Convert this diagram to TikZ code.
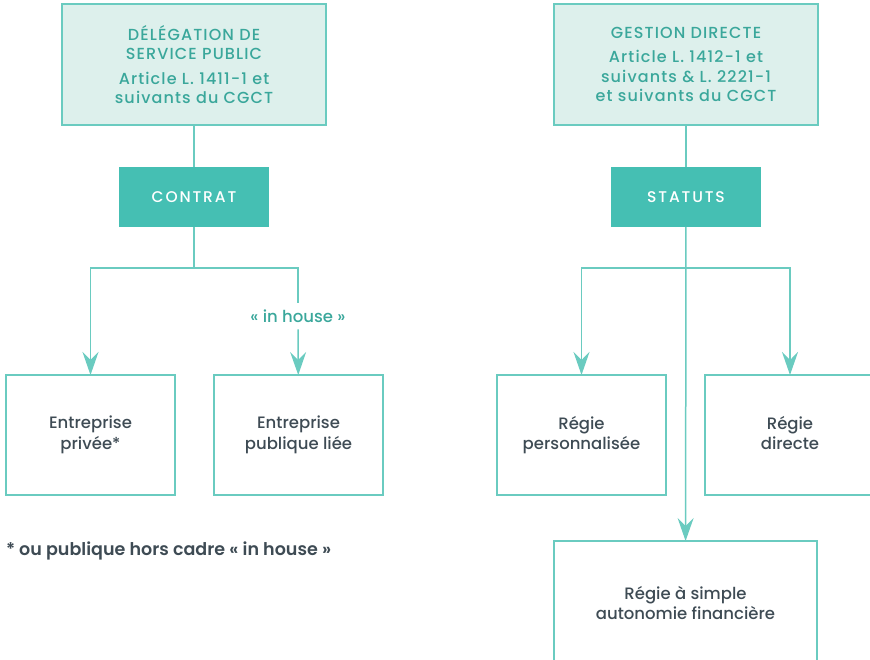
\documentclass[tikz,border=0pt]{standalone}
\usepackage{fontspec}
\setmainfont{Poppins}[UprightFont=* Medium, BoldFont=* SemiBold]
\usetikzlibrary{arrows.meta}
\usetikzlibrary{positioning}

\definecolor{paletint}{HTML}{DDF0EC}
\definecolor{tealline}{HTML}{6ACBC0}
\definecolor{tealfill}{HTML}{45BFB3}
\definecolor{tealtext}{HTML}{3AA79B}
\definecolor{slate}{HTML}{3E4B54}

\begin{document}
\begin{tikzpicture}[
  x=1pt, y=-1pt,
  every node/.style={align=center, inner sep=0pt, outer sep=0pt},
  topbox/.style={draw=tealline, line width=1.5pt, fill=paletint, minimum width=264pt, minimum height=121pt,
    text=tealtext, font=\fontsize{16}{19.5}\selectfont\addfontfeature{LetterSpace=7}},
  keybox/.style={fill=tealfill, minimum width=150pt, minimum height=60pt,
    text=white, font=\fontsize{15.5}{18}\selectfont\addfontfeature{LetterSpace=12}},
  leafbox/.style={draw=tealline, line width=1.5pt, minimum width=169pt, minimum height=120pt,
    text=slate, font=\fontsize{16.5}{20.5}\selectfont},
  link/.style={draw=tealline, line width=1.5pt},
  ar/.style={link, -{Stealth[length=23pt,width=16pt,inset=8pt]}}
  ] %
    \useasboundingbox (0,0) rectangle (870,660);
    % top level
    \node[topbox](dsp) at (194,64.5){D\'EL\'EGATION DE\\SERVICE PUBLIC\\[5pt]Article L. 1411-1 et\\suivants du CGCT};
    \node[topbox,right=228pt of dsp](gd){GESTION DIRECTE\\[5pt]Article L. 1412-1 et\\suivants \& L. 2221-1\\et suivants du CGCT};
    \node[keybox,below=42pt of dsp](contrat){CONTRAT};
    \node[keybox,below=42pt of gd](statuts){STATUTS};
    % leaves
    \node[leafbox](privee) at (90.5,435){Entreprise\\priv\'ee*};
    \node[leafbox,right=39pt of privee](publique){Entreprise\\publique li\'ee};
    \node[leafbox](perso) at (581.5,435){R\'egie\\personnalis\'ee};
    \node[leafbox,minimum width=170pt,right=39pt of perso](directe){R\'egie\\directe\vphantom{p}};
    \node[leafbox,minimum width=263pt,minimum height=124pt](simple) at (685.5,603){R\'egie \`a simple\\autonomie financi\`ere};
    \node[inner sep=7pt,text=tealtext,font=\fontsize{16.5}{20}\selectfont](inhouse) at (298,316){« in house »};
    \node[anchor=west,text=slate,font=\bfseries\fontsize{17.5}{20}\selectfont](note) at (6,551){* ou publique hors cadre « in house »};
    \coordinate (lsplit) at (194,268);
    \coordinate (rsplit) at (685.5,268);
    \draw[link](dsp) -- (contrat);
    \draw[link](gd) -- (statuts);
    \draw[ar](contrat) -- (lsplit) -| (privee);
    \draw[link](lsplit) -| (inhouse);
    \draw[ar](inhouse) -- (publique);
    \draw[ar](statuts) -- (simple);
    \draw[ar](rsplit) -| (perso);
    \draw[ar](rsplit) -| (directe);
  \end{tikzpicture}
\end{document}
